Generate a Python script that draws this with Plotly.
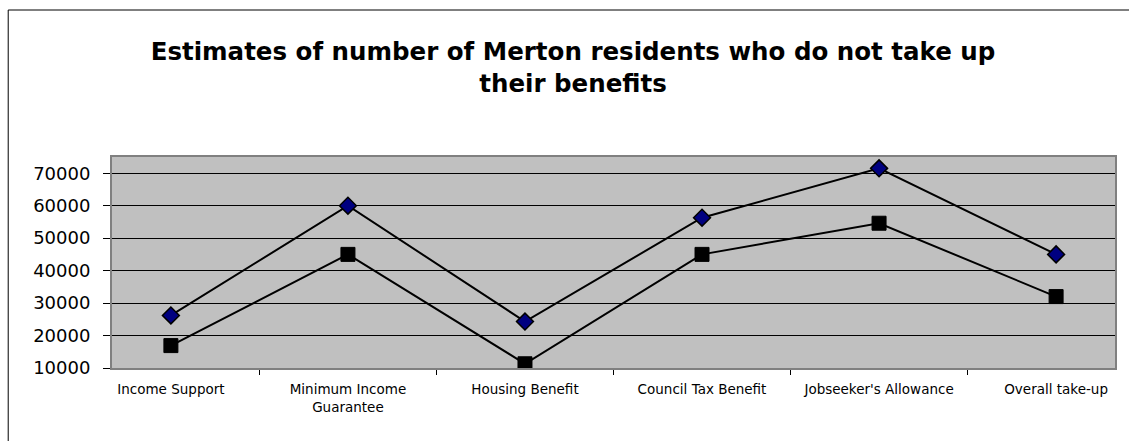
import plotly.graph_objects as go

categories = [
    "Income Support",
    "Minimum Income<br>Guarantee",
    "Housing Benefit",
    "Council Tax Benefit",
    "Jobseeker's Allowance",
    "Overall take-up",
]
upper_estimate = [26200, 60000, 24300, 56300, 71500, 45000]
lower_estimate = [16900, 45000, 11300, 45000, 54600, 32000]
y_ticks = [10000, 20000, 30000, 40000, 50000, 60000, 70000]

W, H = 1129, 441
L, R, T, B = 112, 12, 157, 73
pw, ph = W - L - R, H - T - B

FONT = "DejaVu Sans, Liberation Sans, Arial, sans-serif"

fig = go.Figure()
fig.add_trace(go.Scatter(
    x=categories, y=upper_estimate, mode="lines+markers",
    line=dict(color="black", width=2),
    marker=dict(symbol="diamond", size=13, color="#000080",
                line=dict(color="black", width=1.5)),
    showlegend=False,
))
fig.add_trace(go.Scatter(
    x=categories, y=lower_estimate, mode="lines+markers",
    line=dict(color="black", width=2),
    marker=dict(symbol="square", size=14, color="black",
                line=dict(color="black", width=1)),
    showlegend=False,
))

# outer chart frame (left and top edges visible)
def px_x(px):
    return (px - L) / pw

def px_y(py):
    return (H - B - py) / ph

fig.add_shape(type="rect", xref="paper", yref="paper",
              x0=px_x(8), x1=px_x(W + 20), y0=px_y(H + 20), y1=px_y(10),
              line=dict(color="black", width=1), layer="below")

fig.update_layout(
    width=W, height=H,
    margin=dict(l=L, r=R, t=T, b=B, pad=0),
    paper_bgcolor="white",
    plot_bgcolor="#C0C0C0",
    font=dict(family=FONT, color="black"),
    title=dict(
        text="<b>Estimates of number of Merton residents who do not take up<br>their benefits</b>",
        font=dict(size=24.5, color="black", family=FONT),
        x=573 / W, xanchor="center", xref="container",
        y=1 - 60 / H, yanchor="top", yref="container",
    ),
)
fig.update_xaxes(
    type="category", tickson="boundaries", ticks="outside", ticklen=5,
    tickcolor="black", tickwidth=1,
    showline=True, linecolor="#808080", linewidth=2, mirror=True,
    showgrid=False, tickfont=dict(size=13.5), tickangle=0,
    ticklabelstandoff=8,
)
fig.update_yaxes(
    range=[10000, 75000], tickvals=y_ticks, ticktext=[str(v) for v in y_ticks],
    ticks="outside", ticklen=7, tickcolor="black", tickwidth=1,
    showline=True, linecolor="#808080", linewidth=2, mirror=True,
    showgrid=True, gridcolor="black", gridwidth=1,
    tickfont=dict(size=18), zeroline=False,
    ticklabelstandoff=9,
)

fig.write_html("out.html")
